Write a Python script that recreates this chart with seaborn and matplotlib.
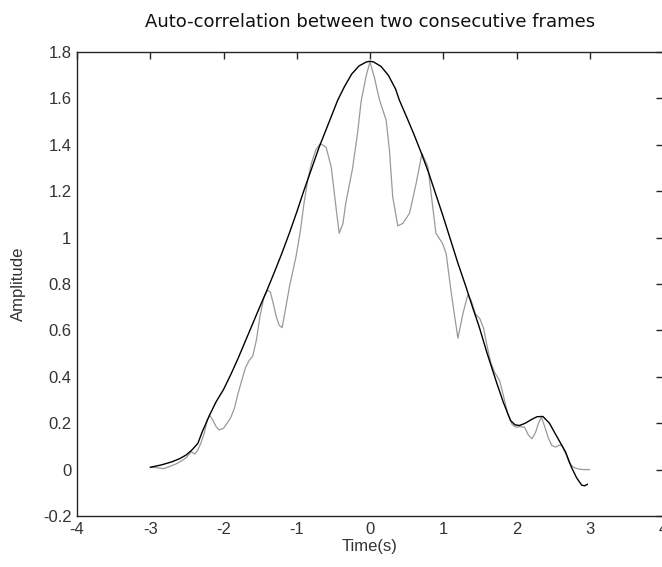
import numpy as np
import pandas as pd
import matplotlib
matplotlib.use("Agg")
import matplotlib.pyplot as plt
import seaborn as sns

# Smooth envelope of the auto-correlation (black)
env_t = [-3.00, -2.85, -2.70, -2.60, -2.51, -2.43, -2.35, -2.29, -2.19, -2.10,
         -2.00, -1.90, -1.80, -1.70, -1.60, -1.50, -1.40, -1.30, -1.20, -1.10,
         -1.00, -0.90, -0.80, -0.70, -0.60, -0.50, -0.44, -0.35, -0.25, -0.15,
         -0.05, 0.00, 0.05, 0.15, 0.25, 0.35, 0.40, 0.50, 0.60, 0.70,
         0.80, 0.90, 1.00, 1.10, 1.20, 1.31, 1.40, 1.49, 1.60, 1.72,
         1.82, 1.92, 1.98, 2.04, 2.12, 2.20, 2.28, 2.36, 2.45, 2.53,
         2.60, 2.67, 2.75, 2.82, 2.89, 2.93, 2.97]
env_amp = [0.010, 0.020, 0.034, 0.047, 0.063, 0.085, 0.113, 0.163, 0.235, 0.293,
           0.345, 0.410, 0.480, 0.555, 0.630, 0.705, 0.778, 0.855, 0.935, 1.020,
           1.110, 1.205, 1.295, 1.385, 1.465, 1.545, 1.593, 1.650, 1.705, 1.740,
           1.757, 1.760, 1.757, 1.738, 1.700, 1.640, 1.593, 1.520, 1.445, 1.365,
           1.280, 1.185, 1.090, 0.990, 0.890, 0.788, 0.700, 0.616, 0.500, 0.383,
           0.290, 0.211, 0.193, 0.190, 0.200, 0.215, 0.228, 0.229, 0.200, 0.154,
           0.115, 0.076, 0.010, -0.035, -0.067, -0.070, -0.063]

# Raw auto-correlation between the two frames (grey)
raw_t = [-3.00, -2.90, -2.82, -2.72, -2.63, -2.55, -2.50, -2.44, -2.39, -2.35,
         -2.31, -2.26, -2.22, -2.19, -2.15, -2.10, -2.06, -2.00, -1.95, -1.90,
         -1.85, -1.80, -1.75, -1.70, -1.65, -1.60, -1.55, -1.50, -1.45, -1.40,
         -1.36, -1.32, -1.28, -1.24, -1.20, -1.16, -1.10, -1.01, -0.95, -0.90,
         -0.85, -0.80, -0.74, -0.68, -0.60, -0.53, -0.46, -0.42, -0.37, -0.33,
         -0.24, -0.17, -0.12, -0.05, 0.00, 0.06, 0.13, 0.22, 0.265, 0.31,
         0.38, 0.45, 0.54, 0.63, 0.71, 0.79, 0.90, 0.99, 1.04, 1.11,
         1.20, 1.27, 1.335, 1.38, 1.44, 1.50, 1.55, 1.60, 1.65, 1.70,
         1.77, 1.82, 1.88, 1.94, 1.99, 2.05, 2.11, 2.16, 2.21, 2.26,
         2.30, 2.34, 2.38, 2.43, 2.48, 2.53, 2.58, 2.62, 2.67, 2.72,
         2.77, 2.85, 2.92, 3.00]
raw_amp = [0.010, 0.008, 0.004, 0.015, 0.027, 0.042, 0.055, 0.077, 0.067, 0.085,
           0.113, 0.160, 0.215, 0.235, 0.215, 0.185, 0.171, 0.178, 0.200, 0.225,
           0.265, 0.330, 0.385, 0.440, 0.470, 0.490, 0.560, 0.665, 0.740, 0.774,
           0.765, 0.715, 0.660, 0.622, 0.612, 0.680, 0.788, 0.918, 1.030, 1.150,
           1.248, 1.320, 1.378, 1.405, 1.390, 1.306, 1.119, 1.019, 1.060, 1.150,
           1.295, 1.450, 1.590, 1.700, 1.758, 1.690, 1.593, 1.507, 1.378, 1.176,
           1.050, 1.062, 1.105, 1.234, 1.363, 1.306, 1.019, 0.975, 0.930, 0.760,
           0.566, 0.674, 0.753, 0.730, 0.670, 0.650, 0.610, 0.530, 0.460, 0.420,
           0.383, 0.320, 0.240, 0.195, 0.183, 0.185, 0.183, 0.150, 0.133, 0.160,
           0.200, 0.226, 0.190, 0.140, 0.105, 0.097, 0.105, 0.104, 0.070, 0.030,
           0.011, 0.002, 0.000, 0.000]

x_ticks = [-4, -3, -2, -1, 0, 1, 2, 3, 4]
y_ticks = [-0.2, 0, 0.2, 0.4, 0.6, 0.8, 1, 1.2, 1.4, 1.6, 1.8]
y_tick_labels = ["-0.2", "0", "0.2", "0.4", "0.6", "0.8", "1", "1.2", "1.4", "1.6", "1.8"]

sns.set_style("white")
plt.rcParams["font.family"] = ["Liberation Sans", "DejaVu Sans"]

fig = plt.figure(figsize=(6.62, 5.67), dpi=100)
# the axes box runs slightly past the right edge of the figure
ax = fig.add_axes([77 / 662, 1 - 516 / 567, 586 / 662, 464 / 567])

raw = pd.DataFrame({"t": raw_t, "amp": raw_amp})
env = pd.DataFrame({"t": env_t, "amp": env_amp})
sns.lineplot(data=raw, x="t", y="amp", ax=ax, color="#999999", linewidth=0.9,
             sort=False, estimator=None)
sns.lineplot(data=env, x="t", y="amp", ax=ax, color="#000000", linewidth=1.0,
             sort=False, estimator=None)

ax.set_xlim(-4, 4)
ax.set_ylim(-0.2, 1.8)
ax.set_xticks(x_ticks)
ax.set_xticklabels([str(v) for v in x_ticks])
ax.set_yticks(y_ticks)
ax.set_yticklabels(y_tick_labels)
ax.tick_params(direction="in", length=5, width=1, colors="#262626",
               labelsize=12, top=True, right=True, pad=4)
for lab in ax.get_xticklabels() + ax.get_yticklabels():
    lab.set_color("#333333")
for s in ax.spines.values():
    s.set_color("#262626")
    s.set_linewidth(1.0)

ax.set_xlabel("Time(s)", fontsize=12, color="#333333", labelpad=2)
ax.set_ylabel("Amplitude", fontsize=12, color="#333333", labelpad=12)
fig.text(370 / 662, 1 - 22 / 567, "Auto-correlation between two consecutive frames",
         ha="center", va="center", fontsize=13, color="#111111",
         family=["DejaVu Sans"])

fig.savefig("out.png", dpi=100)
